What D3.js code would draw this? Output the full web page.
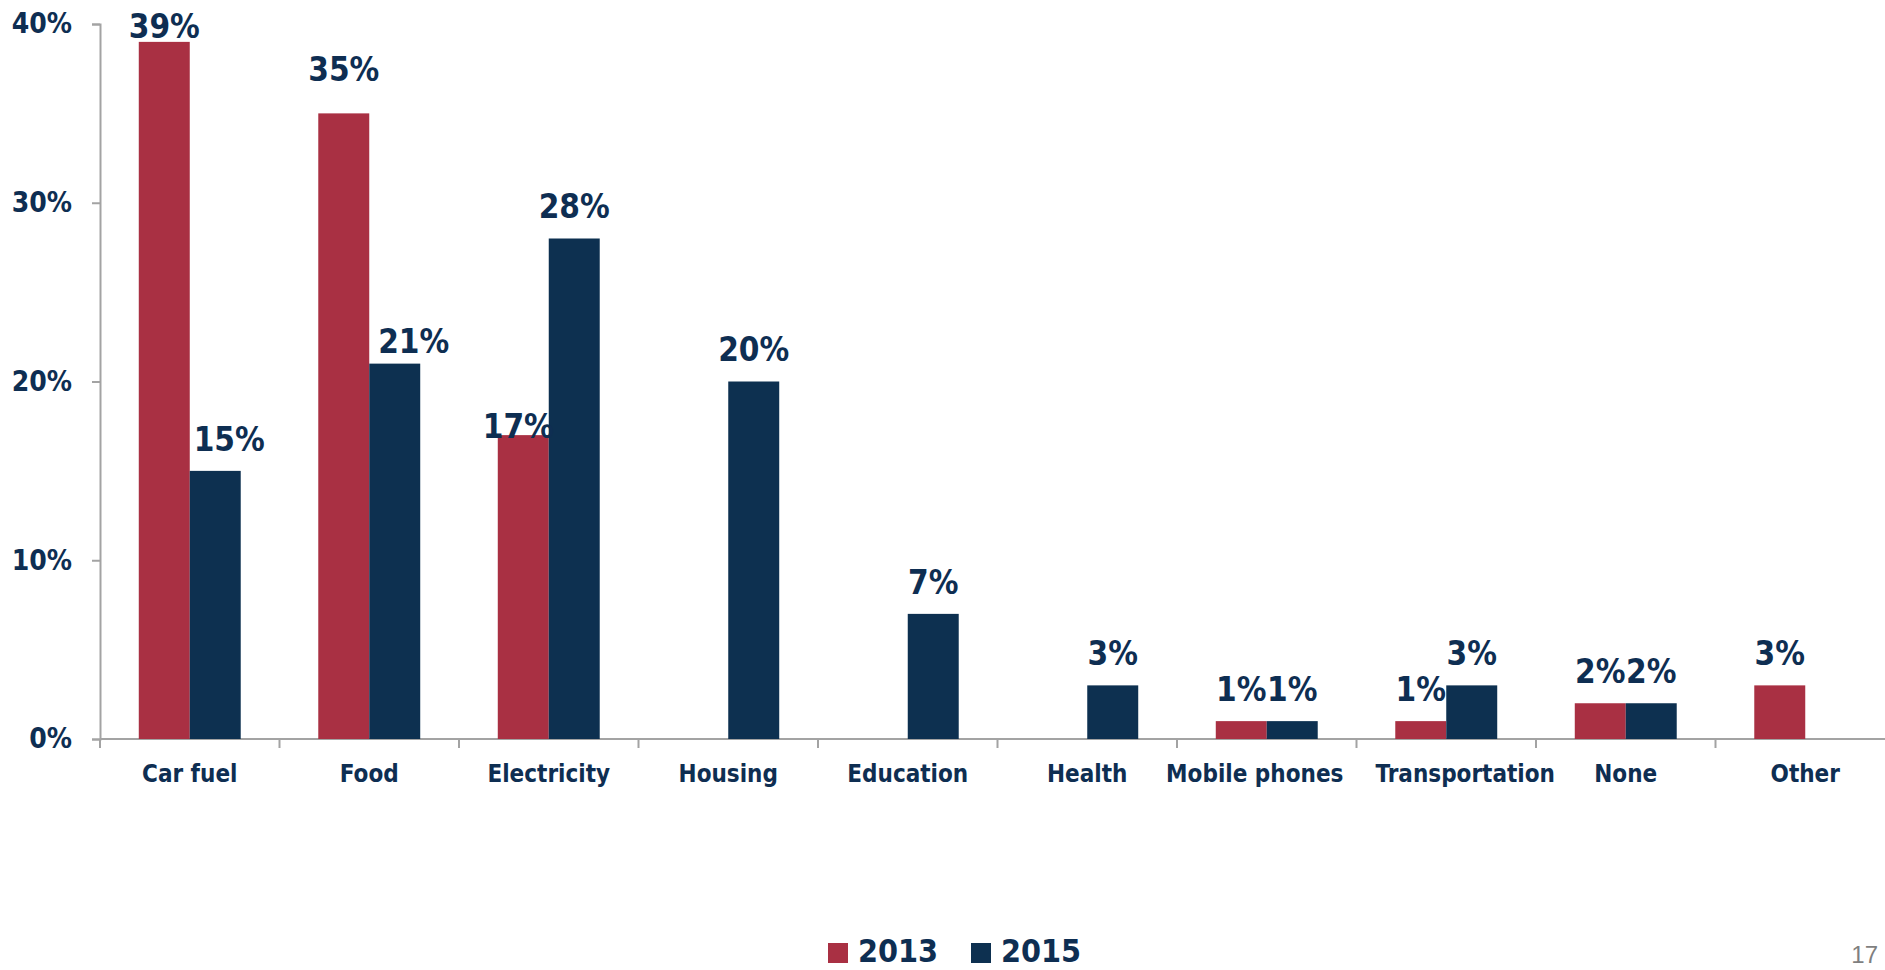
<!DOCTYPE html>
<html>
<head>
<meta charset="utf-8">
<script src="https://cdn.jsdelivr.net/npm/d3@7"></script>
<style>
body { margin: 0; background: #fff; }
svg { display: block; }
</style>
</head>
<body>
<svg id="chart" width="1885" height="970"></svg>
<script>
// chart data
var categories = ["Car fuel", "Food", "Electricity", "Housing", "Education", "Health", "Mobile phones", "Transportation", "None", "Other"];
var series = ["2013", "2015"];
var values2013 = [39, 35, 17, null, null, null, 1, 1, 2, 3];
var values2015 = [15, 21, 28, 20, 7, 3, 1, 3, 2, null];
var yTicks = [0, 10, 20, 30, 40];

var colors = { "2013": "#A93043", "2015": "#0D3050" };
var textColor = "#0E2E52";
var font = "'DejaVu Sans Condensed', 'DejaVu Sans', sans-serif";

// a few labels were moved by hand in the original
var labelNudge = {
	"0-2013": [0, 16],
	"0-2015": [14, 0],
	"1-2013": [0, -12],
	"1-2015": [19, 9],
	"2-2013": [-5, 23]
};
// category labels pushed apart so they don't touch
var catNudge = { "Mobile phones": -12, "Transportation": 19 };

var svg = d3.select("#chart");

var x0 = d3.scaleBand()
	.domain(categories)
	.range([100, 1895])
	.paddingInner(0.432)
	.paddingOuter(0.216);

var x1 = d3.scaleBand()
	.domain(series)
	.range([0, x0.bandwidth()]);

var y = d3.scaleLinear()
	.domain([0, 40])
	.range([739, 24]);

// y axis
var yAxis = d3.axisLeft(y)
	.tickValues(yTicks)
	.tickSize(8)
	.tickPadding(20)
	.tickFormat(function (d) { return d + "%"; });

var gy = svg.append("g")
	.attr("transform", "translate(100,0)")
	.call(yAxis);
gy.select(".domain").attr("stroke", "#a3a3a3").attr("stroke-width", 2);
gy.selectAll(".tick line").attr("stroke", "#a3a3a3").attr("stroke-width", 2);
gy.selectAll(".tick text")
	.attr("fill", textColor)
	.style("font-family", font)
	.style("font-weight", "bold")
	.style("font-size", "28px");

// x axis, ticks sit between categories
var gx = svg.append("g")
	.attr("transform", "translate(0,739)");
gx.append("line")
	.attr("x1", 100).attr("x2", 1895)
	.attr("stroke", "#a3a3a3").attr("stroke-width", 2);
gx.selectAll(".cattick")
	.data(categories)
	.enter()
	.append("line")
	.attr("class", "cattick")
	.attr("x1", function (d) { return x0(d) - x0.step() * x0.paddingOuter(); })
	.attr("x2", function (d) { return x0(d) - x0.step() * x0.paddingOuter(); })
	.attr("y1", 0).attr("y2", 9)
	.attr("stroke", "#a3a3a3").attr("stroke-width", 2);
gx.selectAll(".catlabel")
	.data(categories)
	.enter()
	.append("text")
	.attr("class", "catlabel")
	.attr("x", function (d) { return x0(d) + x0.bandwidth() / 2 + (catNudge[d] || 0); })
	.attr("y", 43)
	.attr("text-anchor", "middle")
	.attr("fill", textColor)
	.style("font-family", font)
	.style("font-weight", "bold")
	.style("font-size", "24px")
	.text(function (d) { return d; });

// flatten into bar records
var bars = [];
for (var i = 0; i < categories.length; i++) {
	if (values2013[i] != null) bars.push({ i: i, cat: categories[i], s: "2013", v: values2013[i] });
	if (values2015[i] != null) bars.push({ i: i, cat: categories[i], s: "2015", v: values2015[i] });
}

svg.append("g").selectAll("rect")
	.data(bars)
	.enter()
	.append("rect")
	.attr("x", function (d) { return x0(d.cat) + x1(d.s); })
	.attr("y", function (d) { return y(d.v); })
	.attr("width", x1.bandwidth())
	.attr("height", function (d) { return y(0) - y(d.v); })
	.attr("fill", function (d) { return colors[d.s]; });

svg.append("g").selectAll("text")
	.data(bars)
	.enter()
	.append("text")
	.attr("x", function (d) {
		var n = labelNudge[d.i + "-" + d.s] || [0, 0];
		return x0(d.cat) + x1(d.s) + x1.bandwidth() / 2 + n[0];
	})
	.attr("y", function (d) {
		var n = labelNudge[d.i + "-" + d.s] || [0, 0];
		return y(d.v) - 32 + n[1];
	})
	.attr("dy", "0.36em")
	.attr("text-anchor", "middle")
	.attr("fill", textColor)
	.style("font-family", font)
	.style("font-weight", "bold")
	.style("font-size", "33px")
	.text(function (d) { return d.v + "%"; });

// legend
var legendX = [828, 971];
var legend = svg.append("g").selectAll("g")
	.data(series)
	.enter()
	.append("g")
	.attr("transform", function (d, i) { return "translate(" + legendX[i] + ",943)"; });
legend.append("rect")
	.attr("width", 20).attr("height", 20)
	.attr("fill", function (d) { return colors[d]; });
legend.append("text")
	.attr("x", 30).attr("y", 19)
	.attr("fill", textColor)
	.style("font-family", font)
	.style("font-weight", "bold")
	.style("font-size", "32px")
	.text(function (d) { return d; });

// page number
svg.append("text")
	.attr("x", 1878).attr("y", 963)
	.attr("text-anchor", "end")
	.attr("fill", "#7f7f7f")
	.style("font-family", "'Liberation Sans', Arial, sans-serif")
	.style("font-size", "24px")
	.text("17");
</script>
</body>
</html>
